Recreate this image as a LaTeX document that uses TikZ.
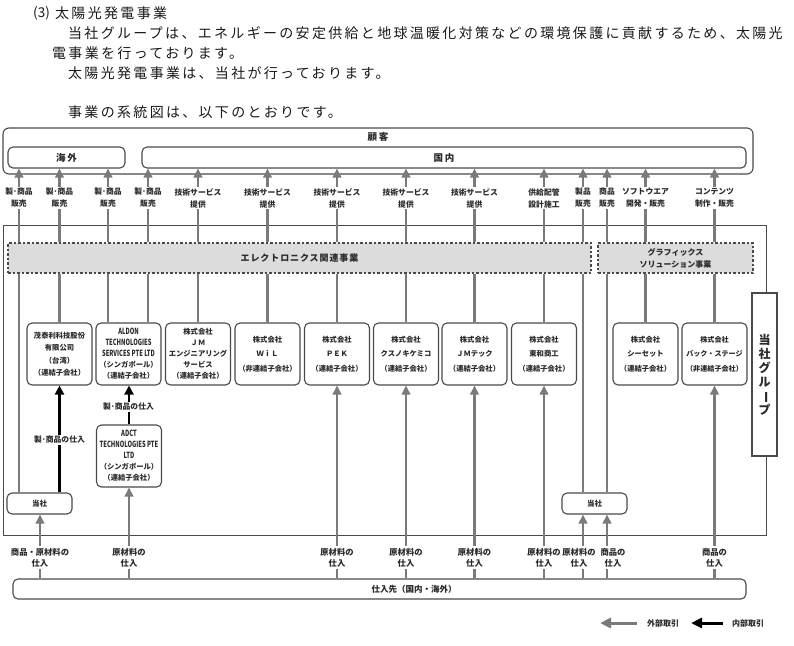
\documentclass[tikz,border=0pt]{standalone}
\usepackage{fontspec}
\usepackage{graphicx}
\setmainfont{Noto Sans CJK JP}
\newfontfamily\bodyfont[LetterSpace=16.5]{Noto Sans CJK JP}
\newfontfamily\spfont[LetterSpace=10]{Noto Sans CJK JP}
\newfontfamily\wfont[LetterSpace=20]{Noto Sans CJK JP}
\usetikzlibrary{arrows.meta,calc}
\definecolor{lg}{HTML}{7A7A7A}
\definecolor{bd}{HTML}{4A4A4A}
\definecolor{tx}{HTML}{2A2A2A}
\definecolor{dfill}{HTML}{DCDCDC}
\newcommand\myfs[2]{\fontsize{#1}{#2}\selectfont}
\newcommand\lat[1]{\scalebox{0.68}[1]{\myfs{8.5}{11}#1}}
\begin{document}
\begin{tikzpicture}[x=1pt,y=-1pt,
  ptxt/.style={anchor=west, inner sep=0pt, text=black!90, font=\bodyfont\myfs{14}{16}},
  rbox/.style={draw=bd, line width=1.1pt, rounded corners=5pt, fill=white, text=tx},
  co/.style={rbox, minimum width=65pt, minimum height=62pt, inner sep=0pt, align=center, font=\bfseries\myfs{7.3}{14.5}},
  co5/.style={co, font=\bfseries\myfs{7.3}{11}},
  lbl/.style={align=center, fill=white, inner sep=1.5pt, text=tx, font=\bfseries\myfs{7.8}{12}},
  blbl/.style={lbl, font=\bfseries\myfs{8.3}{11}},
  gline/.style={draw=lg, line width=2.2pt},
  garr/.style={gline, -{Triangle[width=8.5pt,length=9pt]}},
  bline/.style={draw=black, line width=2.6pt},
  barr/.style={bline, -{Triangle[width=9pt,length=9pt]}},
  dbox/.style={draw=bd, dash pattern=on 2.5pt off 2pt, line width=1.1pt, fill=dfill, text=tx, inner sep=0pt},
  ttl/.style={text=tx, inner sep=0pt, font=\wfont\bfseries\myfs{9.5}{11}}
]
\useasboundingbox (0,0) rectangle (794,645);

% ---- body text ----
\node[ptxt, font=\myfs{13.5}{16}] (p0) at (33,13) {(3)};
\node[ptxt] (p1) at (55,13) {太陽光発電事業};
\node[ptxt] (p2) at (68,33) {当社グループは、エネルギーの安定供給と地球温暖化対策などの環境保護に貢献するため、太陽光};
\node[ptxt] (p3) at (52,53) {電事業を行っております。};
\node[ptxt] (p4) at (68,73) {太陽光発電事業は、当社が行っております。};
\node[ptxt] (p5) at (68,112) {事業の系統図は、以下のとおりです。};

% ---- customers ----
\node[rbox, rounded corners=6pt, minimum width=750pt, minimum height=46pt] (kokyaku) at (378,151) {};
\node[ttl] (kokyakul) at (378,137) {顧客};
\node[rbox, minimum width=117pt, minimum height=21pt, font=\wfont\bfseries\myfs{9.5}{11}] (kaigai) at (66.5,157.5) {海外};
\node[rbox, minimum width=604pt, minimum height=21pt, font=\wfont\bfseries\myfs{9.5}{11}] (kokunai) at (444,157.5) {国内};

% ---- group frame ----
\node[draw=bd, line width=0.9pt, minimum width=763pt, minimum height=310pt, inner sep=0pt] (group) at (384.5,380) {};

% ---- business boxes ----
\node[dbox, minimum width=583pt, minimum height=30pt, font=\spfont\bfseries\myfs{9}{11}] (elec) at (299.5,258) {エレクトロニクス関連事業};
\node[dbox, minimum width=155pt, minimum height=30pt, align=center, font=\bfseries\myfs{8}{12}] (graph) at (675.5,258) {グラフィックス\\ソリューション事業};

% ---- companies ----
\node[co, font=\bfseries\myfs{7.3}{12.5}] (moe) at (59.5,354) {茂泰利科技股份\\有限公司\\（台湾）\\（連結子会社）};
\node[co5] (aldon) at (128.5,354) {\lat{ALDON}\\\lat{TECHNOLOGIES}\\\lat{SERVICES PTE LTD}\\（シンガポール）\\（連結子会社）};
\node[co5] (jme) at (198,354) {株式会社\\ＪＭ\\エンジニアリング\\サービス\\（連結子会社）};
\node[co] (wil) at (267.5,354) {株式会社\\ＷｉＬ\\（非連結子会社）};
\node[co] (pek) at (337,354) {株式会社\\ＰＥＫ\\（連結子会社）};
\node[co] (kusu) at (406,354) {株式会社\\クスノキケミコ\\（連結子会社）};
\node[co] (jmt) at (474.5,354) {株式会社\\ＪＭテック\\（連結子会社）};
\node[co] (towa) at (544,354) {株式会社\\東和商工\\（連結子会社）};
\node[co] (cset) at (645.5,354) {株式会社\\シーセット\\（連結子会社）};
\node[co, font=\bfseries\myfs{7.1}{14.5}] (back) at (714.5,354) {株式会社\\バック・ステージ\\（非連結子会社）};
\node[co5] (adct) at (129,456) {\lat{ADCT}\\\lat{TECHNOLOGIES PTE}\\\lat{LTD}\\（シンガポール）\\（連結子会社）};

\node[rbox, minimum width=65pt, minimum height=21pt, font=\bfseries\myfs{7.5}{9}] (tosha1) at (39.5,503.5) {当社};
\node[rbox, minimum width=65pt, minimum height=21pt, font=\bfseries\myfs{7.5}{9}] (tosha2) at (594.5,503.5) {当社};

\node[draw=bd, line width=1.1pt, fill=white, text=tx, minimum width=25pt, minimum height=163pt, inner sep=0pt, align=center, font=\bfseries\myfs{12}{14}] (glabel) at (764.5,374.5) {当\\社\\グ\\ル\\\rotatebox[origin=c]{-90}{ー}\\プ};

% ---- suppliers ----
\node[rbox, minimum width=733pt, minimum height=20pt] (shiire) at (379.5,589) {};
\node[text=tx, inner sep=0pt, font=\bfseries\myfs{8.5}{10}] (shiirel) at (414,589) {仕入先（国内・海外）};

% ---- top labels ----
\node[lbl] (t1) at (19,198) {製･商品\\販売};
\node[lbl] (t2) at (59.5,198) {製･商品\\販売};
\node[lbl] (t3) at (108,198) {製･商品\\販売};
\node[lbl] (t4) at (148,198) {製･商品\\販売};
\node[lbl] (t5) at (198,198) {技術サービス\\提供};
\node[lbl] (t6) at (267.5,198) {技術サービス\\提供};
\node[lbl] (t7) at (337,198) {技術サービス\\提供};
\node[lbl] (t8) at (406,198) {技術サービス\\提供};
\node[lbl] (t9) at (474.5,198) {技術サービス\\提供};
\node[lbl] (t10) at (544,198) {供給配管\\設計施工};
\node[lbl] (t11) at (583,198) {製品\\販売};
\node[lbl] (t12) at (607,198) {商品\\販売};
\node[lbl] (t13) at (645.5,198) {ソフトウエア\\開発・販売};
\node[lbl] (t14) at (714.5,198) {コンテンツ\\制作・販売};

\foreach \t in {t1,t2,t3} {
  \draw[gline] (elec.north -| \t) -- (\t.south);
  \draw[garr] (\t.north) -- (kaigai.south -| \t);
}
\foreach \t in {t4,t5,t6,t7,t8,t9,t10,t11} {
  \draw[gline] (elec.north -| \t) -- (\t.south);
  \draw[garr] (\t.north) -- (kokunai.south -| \t);
}
\foreach \t in {t12,t13,t14} {
  \draw[gline] (graph.north -| \t) -- (\t.south);
  \draw[garr] (\t.north) -- (kokunai.south -| \t);
}

% ---- business box to companies ----
\draw[gline] (elec.south -| t1) -- (tosha1.north -| t1);
\draw[gline] (elec.south -| moe) -- (moe.north);
\draw[gline] (elec.south -| t3) -- (aldon.north -| t3);
\draw[gline] (elec.south -| t4) -- (aldon.north -| t4);
\foreach \n in {jme,wil,pek,kusu,jmt,towa} {
  \draw[gline] (elec.south -| \n) -- (\n.north);
}
\draw[gline] (elec.south -| t11) -- (tosha2.north -| t11);
\draw[gline] (graph.south -| t12) -- (tosha2.north -| t12);
\draw[gline] (graph.south -| cset) -- (cset.north);
\draw[gline] (graph.south -| back) -- (back.north);

% ---- internal transactions ----
\node[lbl] (m1) at (59.5,440) {製･商品の仕入};
\draw[bline] (tosha1.north -| moe) -- (m1.south);
\draw[barr] (m1.north) -- (moe.south);
\node[lbl] (m2) at (128.5,407) {製･商品の仕入};
\draw[bline] (adct.north) -- (m2.south -| adct);
\draw[barr] (m2.north -| adct) -- (aldon.south -| adct);

% ---- bottom labels ----
\node[blbl] (b1) at (40,557.5) {商品・原材料の\\仕入};
\node[blbl] (b2) at (129,557.5) {原材料の\\仕入};
\node[blbl] (b3) at (337,557.5) {原材料の\\仕入};
\node[blbl] (b4) at (406,557.5) {原材料の\\仕入};
\node[blbl] (b5) at (474.5,557.5) {原材料の\\仕入};
\node[blbl] (b6) at (544,557.5) {原材料の\\仕入};
\node[blbl] (b7) at (579,557.5) {原材料の\\仕入};
\node[blbl] (b8) at (613,557.5) {商品の\\仕入};
\node[blbl] (b9) at (714.5,557.5) {商品の\\仕入};

\draw[gline] (shiire.north -| b1) -- (b1.south);
\draw[garr] (b1.north) -- (tosha1.south -| b1);
\draw[gline] (shiire.north -| b2) -- (b2.south);
\draw[garr] (b2.north) -- (adct.south);
\draw[gline] (shiire.north -| b3) -- (b3.south);
\draw[garr] (b3.north) -- (pek.south);
\draw[gline] (shiire.north -| b4) -- (b4.south);
\draw[garr] (b4.north) -- (kusu.south);
\draw[gline] (shiire.north -| b5) -- (b5.south);
\draw[garr] (b5.north) -- (jmt.south);
\draw[gline] (shiire.north -| b6) -- (b6.south);
\draw[garr] (b6.north) -- (towa.south);
\draw[gline] (shiire.north -| t11) -- (b7.south -| t11);
\draw[garr] (b7.north -| t11) -- (tosha2.south -| t11);
\draw[gline] (shiire.north -| t12) -- (b8.south -| t12);
\draw[garr] (b8.north -| t12) -- (tosha2.south -| t12);
\draw[gline] (shiire.north -| b9) -- (b9.south);
\draw[garr] (b9.north) -- (back.south);

% ---- legend ----
\coordinate (lg1s) at (637,623);
\coordinate (lg1e) at (600,623);
\draw[draw=lg, line width=3pt, -{Triangle[width=10pt,length=11pt]}] (lg1s) -- (lg1e);
\node[text=tx, inner sep=0pt, font=\bfseries\myfs{8}{10}] (lg1t) at (663,623) {外部取引};
\coordinate (lg2s) at (723,623);
\coordinate (lg2e) at (691,623);
\draw[draw=black, line width=3pt, -{Triangle[width=10pt,length=11pt]}] (lg2s) -- (lg2e);
\node[text=tx, inner sep=0pt, font=\bfseries\myfs{8}{10}] (lg2t) at (748,623) {内部取引};
\end{tikzpicture}
\end{document}
